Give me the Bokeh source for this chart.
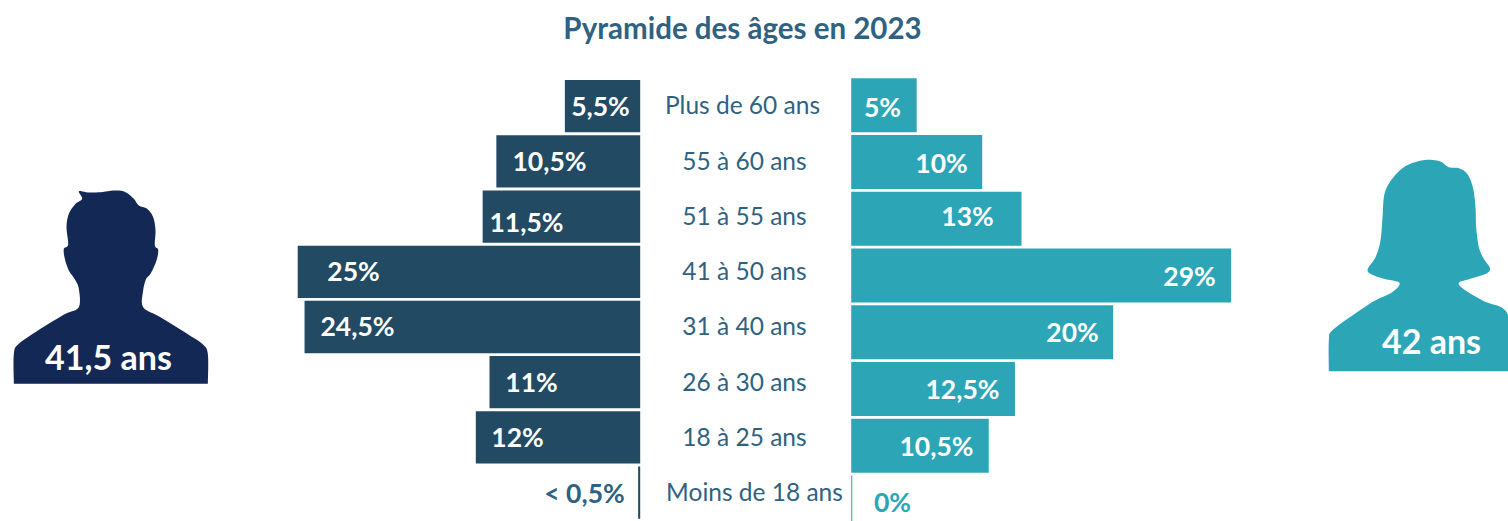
from bokeh.plotting import figure
from bokeh.models import Range1d
from bokeh.core.properties import value
from bokeh.embed import file_html
from bokeh.resources import INLINE

# ---- data
age_groups = ["Plus de 60 ans", "55 à 60 ans", "51 à 55 ans", "41 à 50 ans",
              "31 à 40 ans", "26 à 30 ans", "18 à 25 ans", "Moins de 18 ans"]
men_values = [5.5, 10.5, 11.5, 25, 24.5, 11, 12, 0.15]
women_values = [5, 10, 13, 29, 20, 12.5, 10.5, 0.08]
men_labels = ["5,5%", "10,5%", "11,5%", "25%", "24,5%", "11%", "12%", "< 0,5%"]
women_labels = ["5%", "10%", "13%", "29%", "20%", "12,5%", "10,5%", "0%"]
title_text = "Pyramide des âges en 2023"
men_mean = "41,5 ans"
women_mean = "42 ans"

# ---- layout (page pixels)
W, H = 1508, 521
men_zero, men_scale = 639.7, 13.7
women_zero, women_scale = 850.7, 13.1
men_y0, men_pitch = 105.7, 55.2
women_y0, women_pitch = 104.8, 56.75
men_lab_x = [600, 549, 526, 353, 357, 531, 517, 584]
men_lab_y = [105.5, 160.5, 221.5, 270.5, 325.5, 381.5, 436.5, 492.5]
women_lab_x = [882, 941, 967, 1189, 1072, 962, 936, 892]
women_lab_y = [106.5, 162.5, 215.5, 275.5, 331.5, 388.5, 445.5, 501.5]
cat_x = [742, 744, 744, 744, 744, 744, 744, 754]
cat_y = [103.5, 159.5, 214.5, 269.5, 324.5, 380.5, 435.5, 490.5]

man_curve = [(40,640),(40,550),(55,520),(120,475),(195,430),(235,410),(235,355),(222,325),(205,300),(193,265),(190,235),
    (203,222),(198,170),(205,130),(225,100),(245,85),(235,62),(262,66),(300,65),(345,60),(375,65),(400,85),(415,105),
    (440,115),(458,140),(465,180),(463,225),(473,238),(468,270),(450,310),(437,325),(428,360),(428,410),(480,440),
    (560,490),(605,520),(622,550),(622,640)]
woman_curve = [(55,662),(55,570),(65,540),(130,492),(190,452),(245,425),(267,397),(220,385),(180,370),(172,355),(195,320),
    (210,270),(216,200),(222,130),(245,85),(280,50),(320,33),(355,28),(390,33),(415,50),(445,53),(470,70),(487,110),
    (495,170),(497,230),(505,290),(520,325),(538,352),(530,368),(490,382),(445,397),(465,420),(520,452),(594,495),(594,662)]

def smooth(pts, n=6):
    out = []
    for i in range(len(pts) - 1):
        p0 = pts[max(i - 1, 0)]; p1 = pts[i]; p2 = pts[i + 1]; p3 = pts[min(i + 2, len(pts) - 1)]
        for k in range(n):
            t = k / n
            out.append(tuple(0.5 * (2 * p1[d] + (p2[d] - p0[d]) * t + (2 * p0[d] - 5 * p1[d] + 4 * p2[d] - p3[d]) * t ** 2
                                    + (3 * p1[d] - p0[d] - 3 * p2[d] + p3[d]) * t ** 3) for d in (0, 1)))
    out.append(pts[-1])
    return out

FONT = value("Lato")
C_MEN, C_WOMEN, C_MAN_ICON, C_TEXT = "#224A63", "#2CA6B7", "#132855", "#2F6282"

p = figure(width=W, height=H, output_backend="svg", toolbar_location=None,
           x_range=Range1d(0, W), y_range=Range1d(H, 0),
           min_border=0, outline_line_color=None, background_fill_color="white")
p.axis.visible = False
p.grid.visible = False

p.extra_x_ranges = {
    "men": Range1d(men_zero / men_scale, (men_zero - W) / men_scale),
    "women": Range1d(-women_zero / women_scale, (W - women_zero) / women_scale),
}
p.extra_y_ranges = {
    "men": Range1d((H - men_y0) / men_pitch, -men_y0 / men_pitch),
    "women": Range1d((H - women_y0) / women_pitch, -women_y0 / women_pitch),
}

idx = list(range(len(age_groups)))
p.hbar(y=idx, left=0, right=men_values, height=0.948, color=C_MEN, line_color=None,
       x_range_name="men", y_range_name="men")
p.hbar(y=idx, left=0, right=women_values, height=0.95, color=C_WOMEN, line_color=None,
       x_range_name="women", y_range_name="women")

def txt(x, y, t, size, color, bold=False):
    p.text(x=x, y=y, text=t, text_font=FONT, text_font_size=value(size), text_color=color,
           text_font_style="bold" if bold else "normal", text_align="center", text_baseline="middle")

txt(men_lab_x[:-1], men_lab_y[:-1], men_labels[:-1], "26.5px", "white", True)
txt(men_lab_x[-1:], men_lab_y[-1:], men_labels[-1:], "26.5px", C_TEXT, True)
txt(women_lab_x[:-1], women_lab_y[:-1], women_labels[:-1], "26.5px", "white", True)
txt(women_lab_x[-1:], women_lab_y[-1:], women_labels[-1:], "26.5px", C_WOMEN, True)
txt(cat_x, cat_y, age_groups, "24.5px", C_TEXT)
txt([742], [27], [title_text], "29.5px", C_TEXT, True)

man = smooth(man_curve)
woman = smooth(woman_curve)
p.patch([a / 3 for a, b in man], [170 + b / 3 for a, b in man], color=C_MAN_ICON, line_color=None)
p.patch([1310 + a / 3 for a, b in woman], [150 + b / 3 for a, b in woman], color=C_WOMEN, line_color=None)
txt([108], [355.5], [men_mean], "34px", "white", True)
txt([1431], [339.5], [women_mean], "34px", "white", True)

open("out.html", "w").write(file_html(p, INLINE))
